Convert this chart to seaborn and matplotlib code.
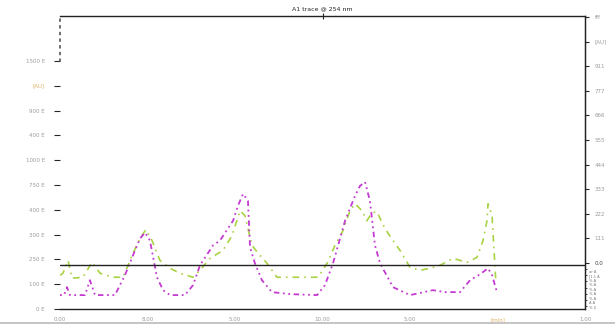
import numpy as np
import matplotlib
matplotlib.use("Agg")
import matplotlib.pyplot as plt
from matplotlib.lines import Line2D
import seaborn as sns

# --- data (time in min, signal in left-axis units) ---
mag_time = [0, 0.23, 0.4, 0.57, 1.03, 1.43, 1.71, 2.0, 3.14, 3.71, 4.17, 4.57, 4.86, 5.14,
            5.54, 5.89, 6.29, 7.14, 7.6, 8.0, 8.74, 9.14, 9.89, 10.17, 10.46, 10.74, 10.86,
            11.14, 11.54, 12.11, 13.14, 14.69, 15.14, 15.6, 16.29, 16.86, 17.14, 17.43, 17.71,
            18.0, 18.29, 19.03, 20.0, 21.31, 22.0, 22.86, 23.43, 24.0, 24.46, 24.69, 24.97]
mag_signal = [56, 56, 88, 56, 56, 56, 116, 56, 56, 136, 216, 284, 308, 276,
              128, 76, 56, 56, 96, 176, 256, 276, 356, 416, 464, 436, 248,
              184, 116, 68, 60, 56, 96, 184, 356, 456, 496, 512, 436,
              256, 184, 88, 56, 76, 68, 68, 116, 140, 164, 136, 68]

grn_time = [0, 0.17, 0.46, 0.69, 1.31, 1.83, 2.29, 3.03, 3.6, 4.17, 4.57, 4.91, 5.26, 5.71,
            6.29, 6.86, 7.6, 8.0, 8.57, 9.31, 9.83, 10.29, 10.57, 10.97, 11.43, 11.83, 12.4,
            13.71, 14.74, 15.26, 15.71, 16.17, 16.57, 16.86, 17.26, 17.54, 17.83, 18.11, 18.57,
            19.03, 19.43, 20.0, 20.57, 21.14, 21.71, 22.46, 23.26, 23.83, 24.17, 24.4, 24.46,
            24.69, 24.91]
grn_signal = [136, 144, 196, 124, 128, 188, 144, 128, 128, 224, 284, 320, 276, 196,
              164, 144, 128, 156, 204, 236, 296, 396, 376, 256, 216, 184, 128,
              128, 128, 184, 256, 316, 396, 424, 396, 356, 388, 392, 324,
              276, 236, 168, 156, 164, 176, 204, 188, 208, 276, 356, 424,
              376, 104]

baseline = 177

x_ticks = [0, 5, 10, 15, 20, 25, 30]
x_labels = ["0.00", "8.00", "5.00", "10.00", "5.00", "[min]", "1.00"]
left_ticks = [0, 100, 200, 300, 400, 500, 600, 700, 800, 900, 1000]
left_labels = ["0 E", "100 E", "250 E", "300 E", "400 E", "750 E", "1000 E",
               "400 E", "900 E", "[AU]", "1500 E"]
right_ticks = [0, 1, 2, 3, 4, 5, 6, 7, 8, 9, 10]
right_labels = ["0.0", "111", "222", "333", "444", "555", "666", "777", "911", "[AU]", "fff"]
side_notes = ["ar A", "[1.1 A", "% A", "% A", "% A", "% A", "% A", "A A", "% U"]

TITLE = "A1 trace @ 254 nm"
GREEN = "#a9d245"
MAGENTA = "#c43ad2"
LABEL_GREY = "#9a9a9a"
UNIT_ORANGE = "#e0b060"

sns.set_style("white")
plt.rcParams["font.family"] = ["DejaVu Sans"]

fig = plt.figure(figsize=(6.15, 3.25), dpi=100)
ax = fig.add_axes([60 / 615, 16 / 325, 525 / 615, 293 / 325])

sns.lineplot(x=grn_time, y=grn_signal, ax=ax, color=GREEN, lw=1.2,
             linestyle=(0, (4, 3, 1, 3)), estimator=None, sort=False)
sns.lineplot(x=mag_time, y=mag_signal, ax=ax, color=MAGENTA, lw=1.3,
             linestyle=(0, (1, 2, 1, 2, 3, 2)), estimator=None, sort=False)
ax.axhline(baseline, color="#222222", lw=1.0)

ax.set_xlim(0, 30)
ax.set_ylim(0, 1181)

# spines
for s in ["top", "right", "bottom"]:
    ax.spines[s].set_visible(True)
    ax.spines[s].set_color("#222222")
    ax.spines[s].set_linewidth(1.0)
ax.spines["left"].set_bounds(1000, 1181)
ax.spines["left"].set_linestyle((0, (1, 3)))
ax.spines["left"].set_linewidth(1.2)
ax.spines["left"].set_color("#555555")

# x axis
ax.set_xticks(x_ticks)
ax.set_xticklabels(x_labels, fontsize=4, color=LABEL_GREY)
ax.get_xticklabels()[5].set_color(UNIT_ORANGE)
ax.tick_params(axis="x", direction="inout", length=4, width=0.8, pad=4)

# left axis
ax.set_yticks(left_ticks)
ax.set_yticklabels(left_labels, fontsize=4, color=LABEL_GREY)
ax.get_yticklabels()[9].set_color(UNIT_ORANGE)
ax.tick_params(axis="y", direction="out", length=4, width=0.8, pad=7, left=True)
ax.set_xlabel("")
ax.set_ylabel("")

# top centre tick
top = ax.secondary_xaxis("top")
top.set_xticks([15])
top.set_xticklabels([""])
top.tick_params(direction="inout", length=4, width=0.8)
top.spines["top"].set_visible(False)

# right axis
ax2 = ax.twinx()
ax2.set_ylim(-1.87, 10.04)
ax2.set_yticks(right_ticks)
ax2.set_yticklabels(right_labels, fontsize=4, color=LABEL_GREY)
ax2.get_yticklabels()[0].set_color("#444444")
ax2.set_yticks(np.arange(-1.75, 0, 0.25), minor=True)
ax2.tick_params(axis="y", which="major", direction="out", length=3, width=0.8, pad=4)
ax2.tick_params(axis="y", which="minor", direction="out", length=1.5, width=0.6)
for s in ["left", "top", "bottom"]:
    ax2.spines[s].set_visible(False)
ax2.spines["right"].set_color("#222222")
ax2.grid(False)

ax.set_title(TITLE, fontsize=4.5, pad=4)

fig.text(589 / 615, 1 - 270 / 325, "\n".join(side_notes), fontsize=2.6,
         color="#777777", va="top", ha="left", linespacing=1.15)

fig.add_artist(Line2D([0, 1], [2 / 325, 2 / 325], color="#bbbbbb", lw=1.2))

fig.savefig("out.png", dpi=100)
